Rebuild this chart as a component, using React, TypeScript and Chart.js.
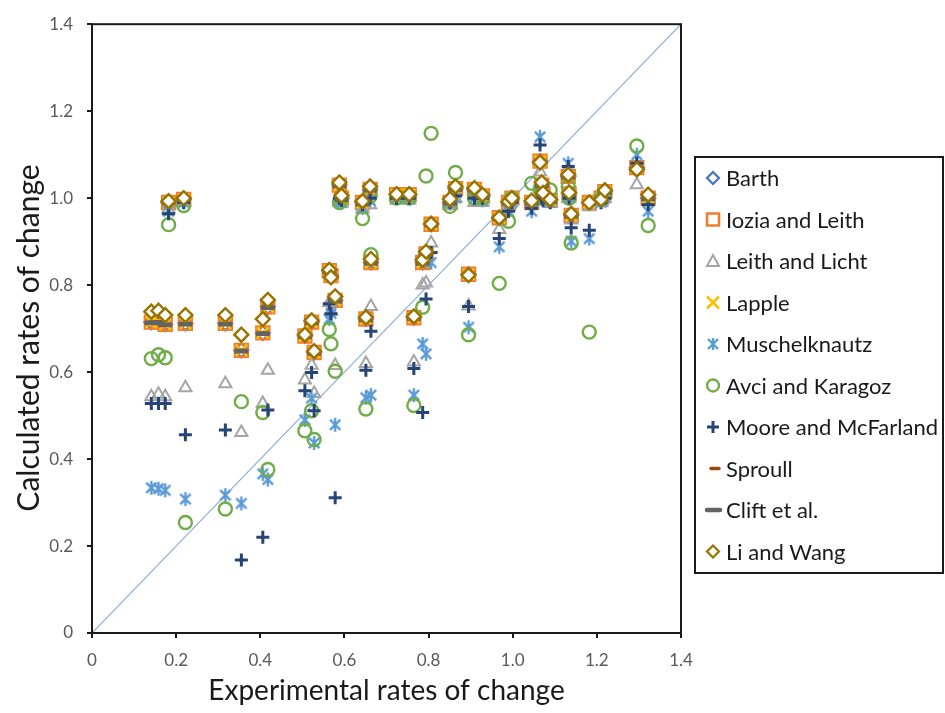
import React, { useEffect, useRef } from "react";
import Chart from "chart.js/auto";

const FONT = "Lato, 'Open Sans', sans-serif";

const EXP_X = [
  0.141, 0.158, 0.174, 0.182, 0.218, 0.222, 0.317, 0.355, 0.406, 0.418,
  0.506, 0.522, 0.528, 0.564, 0.568, 0.578, 0.588, 0.593, 0.643, 0.651,
  0.661, 0.663, 0.724, 0.754, 0.765, 0.786, 0.794, 0.806, 0.851, 0.864,
  0.895, 0.909, 0.928, 0.968, 0.99, 0.998, 1.045, 1.065, 1.069, 1.072,
  1.089, 1.132, 1.134, 1.139, 1.182, 1.21, 1.219, 1.295, 1.322,
];

const BARTH = [
  0.715, 0.716, 0.71, 0.99, 0.997, 0.712, 0.712, 0.65, 0.69, 0.75,
  0.683, 0.715, 0.645, 0.833, 0.822, 0.765, 1.03, 1.0, 0.99, 0.722,
  1.02, 0.852, 1.008, 1.008, 0.725, 0.852, 0.872, 0.94, 0.99, 1.022,
  0.825, 1.02, 1.005, 0.955, 0.99, 1.0, 0.99, 1.085, 1.03, 1.01,
  0.995, 1.05, 1.01, 0.96, 0.99, 1.0, 1.015, 1.07, 1.0,
];

const IOZIA = [
  0.715, 0.716, 0.71, 0.99, 0.997, 0.712, 0.712, 0.65, 0.69, 0.75,
  0.683, 0.715, 0.645, 0.833, 0.822, 0.765, 1.03, 1.0, 0.99, 0.722,
  1.02, 0.852, 1.008, 1.008, 0.725, 0.852, 0.872, 0.94, 0.99, 1.022,
  0.825, 1.02, 1.005, 0.955, 0.99, 1.0, 0.99, 1.085, 1.03, 1.01,
  0.995, 1.05, 1.01, 0.96, 0.99, 1.0, 1.015, 1.07, 1.0,
];

const LEITH_LICHT = [
  0.543, 0.549, 0.543, 0.975, 0.99, 0.564, 0.573, 0.461, 0.528, 0.604,
  0.582, 0.616, 0.551, 0.76, 0.74, 0.615, 0.99, 0.988, 0.975, 0.62,
  0.985, 0.751, 0.995, 0.995, 0.623, 0.8, 0.805, 0.897, 0.983, 1.0,
  0.752, 0.99, 0.99, 0.928, 0.98, 0.995, 0.985, 1.06, 1.02, 1.0,
  0.99, 1.0, 1.0, 0.95, 0.98, 0.99, 1.0, 1.031, 0.995,
];

const LAPPLE = [
  0.715, 0.716, 0.71, 0.99, 0.997, 0.712, 0.712, 0.65, 0.69, 0.75,
  0.683, 0.715, 0.645, 0.833, 0.822, 0.765, 1.03, 1.0, 0.99, 0.722,
  1.02, 0.852, 1.008, 1.008, 0.725, 0.852, 0.872, 0.94, 0.99, 1.022,
  0.825, 1.02, 1.005, 0.955, 0.99, 1.0, 0.99, 1.085, 1.03, 1.01,
  0.995, 1.05, 1.01, 0.96, 0.99, 1.0, 1.015, 1.07, 1.0,
];

const MUSCHELKNAUTZ = [
  0.334, 0.332, 0.328, 0.97, 0.99, 0.308, 0.317, 0.298, 0.366, 0.353,
  0.49, 0.54, 0.437, 0.722, 0.735, 0.479, 0.995, 0.99, 0.977, 0.541,
  0.995, 0.547, 1.0, 1.0, 0.547, 0.665, 0.642, 0.852, 0.99, 1.0,
  0.703, 1.0, 0.995, 0.888, 0.97, 0.99, 0.97, 1.141, 1.0, 0.995,
  0.99, 1.08, 1.0, 0.901, 0.907, 0.99, 1.0, 1.1, 0.97,
];

const AVCI_KARAGOZ = [
  0.631, 0.64, 0.633, 0.939, 0.983, 0.254, 0.285, 0.532, 0.507, 0.376,
  0.465, 0.511, 0.445, 0.698, 0.665, 0.602, 0.99, 1.0, 0.953, 0.515,
  1.004, 0.87, 1.0, 1.0, 0.523, 0.749, 1.051, 1.149, 0.981, 1.059,
  0.686, 1.0, 1.0, 0.804, 0.947, 1.0, 1.034, 1.02, 1.01, 1.0,
  1.019, 1.027, 1.0, 0.897, 0.692, 1.0, 1.01, 1.12, 0.937,
];

const MOORE_MCFARLAND = [
  0.528, 0.528, 0.528, 0.964, 0.99, 0.456, 0.467, 0.168, 0.22, 0.513,
  0.557, 0.599, 0.511, 0.757, 0.734, 0.311, 1.0, 0.995, 0.985, 0.604,
  1.0, 0.694, 1.0, 1.0, 0.608, 0.507, 0.768, 0.875, 0.99, 1.005,
  0.751, 1.0, 1.0, 0.907, 0.97, 0.99, 0.977, 1.122, 1.0, 0.995,
  0.99, 1.073, 1.0, 0.932, 0.926, 0.99, 1.0, 1.08, 0.985,
];

const SPROULL = [
  0.715, 0.716, 0.71, 0.99, 0.997, 0.712, 0.712, 0.65, 0.69, 0.75,
  0.683, 0.715, 0.645, 0.833, 0.822, 0.765, 1.03, 1.0, 0.99, 0.722,
  1.02, 0.852, 1.008, 1.008, 0.725, 0.852, 0.872, 0.94, 0.99, 1.022,
  0.825, 1.02, 1.005, 0.955, 0.99, 1.0, 0.99, 1.085, 1.03, 1.01,
  0.995, 1.05, 1.01, 0.96, 0.99, 1.0, 1.015, 1.07, 1.0,
];

const CLIFT = [
  0.713, 0.714, 0.708, 0.99, 0.997, 0.71, 0.71, 0.648, 0.688, 0.748,
  0.681, 0.713, 0.643, 0.831, 0.82, 0.763, 1.028, 0.998, 0.988, 0.72,
  1.018, 0.85, 1.006, 1.006, 0.723, 0.85, 0.87, 0.938, 0.988, 1.02,
  0.823, 1.018, 1.003, 0.953, 0.988, 0.998, 0.988, 1.083, 1.028, 1.008,
  0.993, 1.048, 1.008, 0.958, 0.988, 0.998, 1.013, 1.068, 0.998,
];

const LI_WANG = [
  0.739, 0.741, 0.731, 0.993, 1.0, 0.731, 0.731, 0.686, 0.722, 0.766,
  0.686, 0.719, 0.648, 0.835, 0.818, 0.774, 1.036, 1.006, 0.993, 0.726,
  1.027, 0.86, 1.009, 1.009, 0.728, 0.858, 0.877, 0.941, 0.998, 1.027,
  0.823, 1.023, 1.008, 0.955, 0.992, 1.0, 0.994, 1.082, 1.036, 1.012,
  0.997, 1.054, 1.013, 0.964, 0.99, 0.997, 1.018, 1.066, 1.008,
];

const SERIES_NAMES = [
  "Barth",
  "Iozia and Leith",
  "Leith and Licht",
  "Lapple",
  "Muschelknautz",
  "Avci and Karagoz",
  "Moore and McFarland",
  "Sproull",
  "Clift et al.",
  "Li and Wang",
];

const X_TITLE = "Experimental rates of change";
const Y_TITLE = "Calculated rates of change";

type MarkerKind =
  | "diamond"
  | "square"
  | "triangle"
  | "x"
  | "star"
  | "circle"
  | "plus"
  | "dashS"
  | "dashL";

const STYLES: { kind: MarkerKind; color: string }[] = [
  { kind: "diamond", color: "#4472C4" },
  { kind: "square", color: "#ED7D31" },
  { kind: "triangle", color: "#A5A5A5" },
  { kind: "x", color: "#FFC000" },
  { kind: "star", color: "#5B9BD5" },
  { kind: "circle", color: "#70AD47" },
  { kind: "plus", color: "#264478" },
  { kind: "dashS", color: "#9E480E" },
  { kind: "dashL", color: "#636363" },
  { kind: "diamond", color: "#997300" },
];

function makeStar(color: string, size: number, lw: number) {
  const c = document.createElement("canvas");
  c.width = size;
  c.height = size;
  const g = c.getContext("2d")!;
  g.strokeStyle = color;
  g.lineWidth = lw;
  g.lineCap = "butt";
  const m = size / 2;
  const r = size / 2 - 1.5;
  const d = r * 0.8;
  g.beginPath();
  g.moveTo(m - d, m - d);
  g.lineTo(m + d, m + d);
  g.moveTo(m + d, m - d);
  g.lineTo(m - d, m + d);
  g.moveTo(m, m - r - 0.5);
  g.lineTo(m, m + r + 0.5);
  g.stroke();
  return c;
}

function drawLegendMarker(
  ctx: CanvasRenderingContext2D,
  kind: MarkerKind,
  color: string,
  x: number,
  y: number
) {
  ctx.save();
  ctx.strokeStyle = color;
  ctx.fillStyle = "#fff";
  ctx.beginPath();
  switch (kind) {
    case "diamond":
      ctx.lineWidth = 2.2;
      ctx.moveTo(x, y - 6);
      ctx.lineTo(x + 6, y);
      ctx.lineTo(x, y + 6);
      ctx.lineTo(x - 6, y);
      ctx.closePath();
      ctx.fill();
      ctx.stroke();
      break;
    case "square":
      ctx.lineWidth = 2.6;
      ctx.rect(x - 6, y - 6, 12, 12);
      ctx.fill();
      ctx.stroke();
      break;
    case "triangle":
      ctx.lineWidth = 2;
      ctx.moveTo(x, y - 6);
      ctx.lineTo(x + 6, y + 5);
      ctx.lineTo(x - 6, y + 5);
      ctx.closePath();
      ctx.stroke();
      break;
    case "x":
      ctx.lineWidth = 2.6;
      ctx.moveTo(x - 6, y - 6);
      ctx.lineTo(x + 6, y + 6);
      ctx.moveTo(x + 6, y - 6);
      ctx.lineTo(x - 6, y + 6);
      ctx.stroke();
      break;
    case "star":
      ctx.lineWidth = 2.4;
      ctx.moveTo(x - 5, y - 5);
      ctx.lineTo(x + 5, y + 5);
      ctx.moveTo(x + 5, y - 5);
      ctx.lineTo(x - 5, y + 5);
      ctx.moveTo(x, y - 6);
      ctx.lineTo(x, y + 6);
      ctx.stroke();
      break;
    case "circle":
      ctx.lineWidth = 2.4;
      ctx.arc(x, y, 6, 0, Math.PI * 2);
      ctx.stroke();
      break;
    case "plus":
      ctx.lineWidth = 3;
      ctx.moveTo(x - 6, y);
      ctx.lineTo(x + 6, y);
      ctx.moveTo(x, y - 6);
      ctx.lineTo(x, y + 6);
      ctx.stroke();
      break;
    case "dashS":
      ctx.lineWidth = 3.5;
      ctx.lineCap = "round";
      ctx.moveTo(x - 2, y);
      ctx.lineTo(x + 6, y);
      ctx.stroke();
      break;
    case "dashL":
      ctx.lineWidth = 4.5;
      ctx.lineCap = "round";
      ctx.moveTo(x - 6, y);
      ctx.lineTo(x + 7, y);
      ctx.stroke();
      break;
  }
  ctx.restore();
}

const decorPlugin = {
  id: "decor",
  afterDatasetsDraw(chart: any) {
    const { ctx, chartArea } = chart;
    ctx.save();
    ctx.strokeStyle = "#1a1a1a";
    ctx.lineWidth = 2;
    ctx.strokeRect(
      chartArea.left,
      chartArea.top,
      chartArea.right - chartArea.left,
      chartArea.bottom - chartArea.top
    );
    ctx.restore();
  },
  afterDraw(chart: any) {
    const { ctx } = chart;
    ctx.save();
    // y-axis title
    ctx.translate(29, 338);
    ctx.rotate(-Math.PI / 2);
    ctx.fillStyle = "#1a1a1a";
    ctx.font = `30px ${FONT}`;
    ctx.textAlign = "center";
    ctx.textBaseline = "middle";
    ctx.fillText(Y_TITLE, 0, 0);
    ctx.restore();

    // legend box
    ctx.save();
    ctx.strokeStyle = "#1a1a1a";
    ctx.lineWidth = 2;
    ctx.strokeRect(695, 157, 248, 416);
    ctx.font = `22px ${FONT}`;
    ctx.fillStyle = "#1a1a1a";
    ctx.textBaseline = "middle";
    ctx.textAlign = "left";
    SERIES_NAMES.forEach((name, i) => {
      const cy = 178 + i * 41.5;
      const st = STYLES[i];
      drawLegendMarker(ctx, st.kind, st.color, 713, cy);
      ctx.fillText(name, 726, cy + 1);
    });
    ctx.restore();
  },
};

export default function App() {
  const ref = useRef<HTMLCanvasElement | null>(null);

  useEffect(() => {
    document.body.style.margin = "0";
    const canvas = ref.current!;
    const star = makeStar("#5B9BD5", 16, 2.4);
    const all = [
      BARTH,
      IOZIA,
      LEITH_LICHT,
      LAPPLE,
      MUSCHELKNAUTZ,
      AVCI_KARAGOZ,
      MOORE_MCFARLAND,
      SPROULL,
      CLIFT,
      LI_WANG,
    ];
    const pts = (ys: number[]) => EXP_X.map((x, i) => ({ x, y: ys[i] }));

    const pointCfg: any[] = [
      { pointStyle: "rectRot", pointRadius: 7, borderWidth: 2.2, backgroundColor: "#fff" },
      { pointStyle: "rect", pointRadius: 9, borderWidth: 2.6, backgroundColor: "rgba(0,0,0,0)" },
      { pointStyle: "triangle", pointRadius: 7, borderWidth: 2, backgroundColor: "rgba(0,0,0,0)" },
      { pointStyle: "crossRot", pointRadius: 8, borderWidth: 2.6, backgroundColor: "rgba(0,0,0,0)" },
      { pointStyle: star, pointRadius: 8, borderWidth: 2, backgroundColor: "rgba(0,0,0,0)" },
      { pointStyle: "circle", pointRadius: 6.5, borderWidth: 2.4, backgroundColor: "rgba(0,0,0,0)" },
      { pointStyle: "cross", pointRadius: 6.5, borderWidth: 3, backgroundColor: "rgba(0,0,0,0)" },
      { pointStyle: "line", pointRadius: 4, borderWidth: 3.5, backgroundColor: "rgba(0,0,0,0)" },
      { pointStyle: "line", pointRadius: 7, borderWidth: 4.5, backgroundColor: "rgba(0,0,0,0)" },
      { pointStyle: "rectRot", pointRadius: 7, borderWidth: 2.4, backgroundColor: "#fff" },
    ];

    const datasets: any[] = all.map((ys, i) => ({
      label: SERIES_NAMES[i],
      data: pts(ys),
      borderColor: STYLES[i].color,
      pointBorderColor: STYLES[i].color,
      pointBackgroundColor: pointCfg[i].backgroundColor,
      pointStyle: pointCfg[i].pointStyle,
      pointRadius: pointCfg[i].pointRadius,
      pointHoverRadius: pointCfg[i].pointRadius,
      pointBorderWidth: pointCfg[i].borderWidth,
      showLine: false,
      order: 10 - i,
    }));

    datasets.push({
      label: "y=x",
      data: [
        { x: 0, y: 0 },
        { x: 1.4, y: 1.4 },
      ],
      showLine: true,
      borderColor: "#8EAADB",
      borderWidth: 1.2,
      pointRadius: 0,
      order: 50,
    });

    const tickFont = { family: FONT, size: 17 };
    const chart = new Chart(canvas, {
      type: "scatter",
      data: { datasets },
      options: {
        animation: false,
        responsive: false,
        events: [],
        layout: { padding: { left: 0, top: 20, right: 264, bottom: 0 } },
        plugins: { legend: { display: false }, tooltip: { enabled: false } },
        scales: {
          x: {
            type: "linear",
            min: 0,
            max: 1.4,
            ticks: { stepSize: 0.2, color: "#595959", font: tickFont, padding: 12 },
            grid: {
              drawOnChartArea: false,
              drawTicks: true,
              tickLength: 5,
              color: "#1a1a1a",
              lineWidth: 2,
            },
            border: { display: false },
            title: {
              display: true,
              text: X_TITLE,
              color: "#1a1a1a",
              font: { family: FONT, size: 28 },
              padding: { top: 0, bottom: 5 },
            },
            afterFit: (s: any) => {
              s.height = 80;
            },
          },
          y: {
            type: "linear",
            min: 0,
            max: 1.4,
            ticks: { stepSize: 0.2, color: "#595959", font: tickFont, padding: 14 },
            grid: {
              drawOnChartArea: false,
              drawTicks: true,
              tickLength: 5,
              color: "#1a1a1a",
              lineWidth: 2,
            },
            border: { display: false },
            afterFit: (s: any) => {
              s.width = 92;
            },
          },
        },
      },
      plugins: [decorPlugin],
    });
    return () => chart.destroy();
  }, []);

  return (
    <div style={{ width: 945, height: 713, background: "#fff" }}>
      <canvas ref={ref} width={945} height={713} style={{ display: "block" }} />
    </div>
  );
}
